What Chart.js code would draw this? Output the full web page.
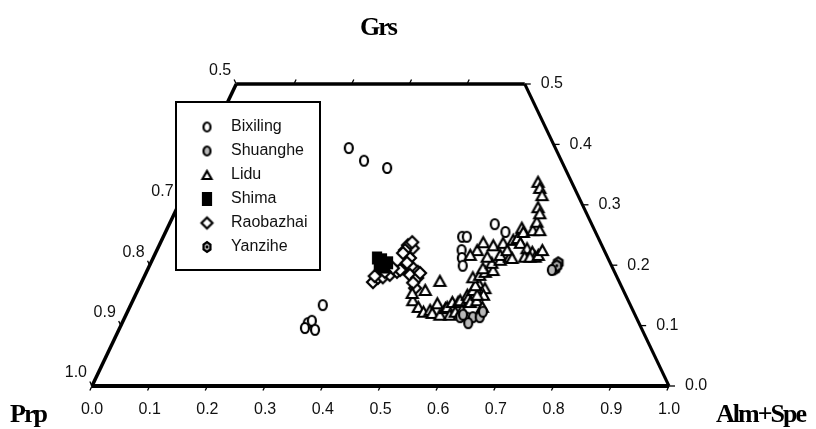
<!DOCTYPE html>
<html>
<head>
<meta charset="utf-8">
<script src="https://cdn.jsdelivr.net/npm/chart.js@4/dist/chart.umd.min.js"></script>
<style>
  html, body { margin: 0; padding: 0; background: #fff; }
  #chart { display: block; }
</style>
</head>
<body>
<canvas id="chart" width="816" height="429"></canvas>
<script>
// garnet end-member proportions: Alm+Spe and Grs (Prp = 1 - both)
var bixilingAlm = [0.248, 0.285, 0.331, 0.333, 0.322, 0.327, 0.340, 0.321, 0.518, 0.526, 0.528, 0.535, 0.543, 0.564, 0.589];
var bixilingGrs = [0.394, 0.373, 0.361, 0.134, 0.104, 0.108, 0.093, 0.096, 0.247, 0.247, 0.225, 0.212, 0.199, 0.268, 0.255];

var shuangheAlm = [0.581, 0.594, 0.603, 0.615, 0.616, 0.600, 0.584, 0.701];
var shuangheGrs = [0.114, 0.113, 0.114, 0.114, 0.123, 0.104, 0.118, 0.192];

var liduAlm = [0.485, 0.478, 0.500, 0.513, 0.523, 0.529, 0.530, 0.544, 0.516, 0.548, 0.550, 0.561, 0.555, 0.565, 0.567,
  0.575, 0.579, 0.586, 0.581, 0.596, 0.584, 0.611, 0.600, 0.603, 0.592, 0.581, 0.570, 0.580, 0.587, 0.580, 0.599,
  0.591, 0.603, 0.555, 0.578, 0.547, 0.559, 0.579, 0.594, 0.609, 0.599, 0.617, 0.607, 0.622, 0.615, 0.624, 0.614,
  0.620, 0.640, 0.652, 0.661, 0.643, 0.652, 0.635, 0.635, 0.647, 0.625, 0.633, 0.604, 0.612, 0.622, 0.665, 0.668,
  0.498, 0.568, 0.578];
var liduGrs = [0.142, 0.154, 0.131, 0.123, 0.126, 0.121, 0.137, 0.118, 0.174, 0.129, 0.131, 0.118, 0.139, 0.139, 0.142,
  0.151, 0.146, 0.139, 0.159, 0.142, 0.171, 0.131, 0.162, 0.151, 0.151, 0.167, 0.180, 0.184, 0.189, 0.195, 0.192,
  0.204, 0.209, 0.225, 0.214, 0.217, 0.238, 0.233, 0.237, 0.242, 0.217, 0.214, 0.225, 0.212, 0.245, 0.237, 0.262,
  0.255, 0.228, 0.222, 0.214, 0.214, 0.214, 0.258, 0.272, 0.258, 0.296, 0.286, 0.338, 0.328, 0.316, 0.217, 0.225,
  0.159, 0.123, 0.126];

var shimaAlm = [0.388, 0.398, 0.411, 0.397, 0.409];
var shimaGrs = [0.212, 0.209, 0.204, 0.200, 0.197];

var raobazhaiAlm = [0.401, 0.406, 0.414, 0.424, 0.434, 0.441, 0.448, 0.459, 0.470, 0.459, 0.474, 0.445, 0.442, 0.431,
  0.436, 0.430, 0.429, 0.479, 0.438, 0.475, 0.471, 0.444, 0.424, 0.413, 0.399];
var raobazhaiGrs = [0.172, 0.179, 0.180, 0.184, 0.189, 0.195, 0.200, 0.195, 0.189, 0.184, 0.179, 0.212, 0.228, 0.233,
  0.238, 0.225, 0.220, 0.162, 0.192, 0.187, 0.171, 0.204, 0.195, 0.189, 0.182];

var yanziheAlm = [0.706, 0.705, 0.706];
var yanziheGrs = [0.204, 0.194, 0.199];

var seriesNames = ["Bixiling", "Shuanghe", "Lidu", "Shima", "Raobazhai", "Yanzihe"];
var axisTicks = [0.0, 0.1, 0.2, 0.3, 0.4, 0.5, 0.6, 0.7, 0.8, 0.9, 1.0];
var grsTicks = [0.0, 0.1, 0.2, 0.3, 0.4, 0.5];
var prpTicks = [0.5, 0.6, 0.7, 0.8, 0.9, 1.0];

// ternary -> cartesian: x along the base, y = Grs
function toPoints(alm, grs) {
  return alm.map(function (a, i) {
    return { x: a + grs[i] / 2, y: grs[i] };
  });
}

// small canvases used as point styles
function marker(kind, w, h) {
  var c = document.createElement("canvas");
  c.width = w + 4;
  c.height = h + 4;
  var g = c.getContext("2d");
  var cx = c.width / 2, cy = c.height / 2;
  g.lineWidth = 2.2;
  g.strokeStyle = "#000";
  g.fillStyle = "#fff";
  g.beginPath();
  if (kind === "circle" || kind === "grey") {
    g.ellipse(cx, cy, w / 2 - 1, h / 2 - 1, 0, 0, Math.PI * 2);
    g.fillStyle = kind === "grey" ? "#b8b8b8" : "#fff";
  } else if (kind === "triangle") {
    g.moveTo(cx, cy - h / 2 + 1);
    g.lineTo(cx + w / 2 - 1, cy + h / 2 - 1);
    g.lineTo(cx - w / 2 + 1, cy + h / 2 - 1);
    g.closePath();
  } else if (kind === "square") {
    g.rect(cx - w / 2 + 1, cy - h / 2 + 1, w - 2, h - 2);
    g.fillStyle = "#000";
  } else if (kind === "diamond") {
    g.moveTo(cx, cy - h / 2 + 1);
    g.lineTo(cx + w / 2 - 1, cy);
    g.lineTo(cx, cy + h / 2 - 1);
    g.lineTo(cx - w / 2 + 1, cy);
    g.closePath();
  } else if (kind === "hexagon") {
    for (var k = 0; k < 6; k++) {
      var ang = Math.PI / 6 + k * Math.PI / 3;
      var px = cx + (w / 2 - 1) * Math.cos(ang), py = cy + (h / 2 - 1) * Math.sin(ang);
      if (k === 0) g.moveTo(px, py); else g.lineTo(px, py);
    }
    g.closePath();
    g.fillStyle = "#a8a8a8";
  }
  g.fill();
  g.stroke();
  if (kind === "hexagon") {
    g.beginPath();
    g.arc(cx, cy, 1.4, 0, Math.PI * 2);
    g.fillStyle = "#000";
    g.fill();
  }
  return c;
}

var markers = [
  marker("circle", 10, 12),
  marker("grey", 10, 12),
  marker("triangle", 13, 12),
  marker("square", 10, 13),
  marker("diamond", 14, 14),
  marker("hexagon", 12, 13)
];
var legendMarkers = [
  marker("circle", 9, 11),
  marker("grey", 9, 11),
  marker("triangle", 11, 10),
  marker("square", 10, 14),
  marker("diamond", 13, 13),
  marker("hexagon", 10, 12)
];

var seriesData = [
  toPoints(bixilingAlm, bixilingGrs),
  toPoints(shuangheAlm, shuangheGrs),
  toPoints(liduAlm, liduGrs),
  toPoints(shimaAlm, shimaGrs),
  toPoints(raobazhaiAlm, raobazhaiGrs),
  toPoints(yanziheAlm, yanziheGrs)
];

function fmt(v) { return v.toFixed(1); }

// triangle outline, ticks, tick labels and apex titles
var ternaryFrame = {
  id: "ternaryFrame",
  beforeDatasetsDraw: function (chart) {
    var ctx = chart.ctx;
    var xs = chart.scales.x, ys = chart.scales.y;
    function P(a, g) { return [xs.getPixelForValue(a + g / 2), ys.getPixelForValue(g)]; }
    var bl = P(0, 0), br = P(1, 0), tr = P(0.5, 0.5), tl = P(0, 0.5);

    ctx.save();
    ctx.strokeStyle = "#000";
    ctx.lineCap = "butt";
    ctx.lineJoin = "round";
    function seg(p, q, w) {
      ctx.beginPath();
      ctx.lineWidth = w;
      ctx.moveTo(p[0], p[1]);
      ctx.lineTo(q[0], q[1]);
      ctx.stroke();
    }
    seg(bl, br, 4);
    seg(bl, tl, 3.5);
    seg(tl, tr, 3.5);
    seg(tr, br, 3);

    // tick directions follow the iso-lines of each component
    var lx = tl[0] - bl[0], ly = tl[1] - bl[1], ln = Math.hypot(lx, ly);
    var ux = lx / ln, uy = ly / ln;
    var len = 5;
    ctx.fillStyle = "#111";
    ctx.font = "16px 'Liberation Sans', Arial, sans-serif";

    axisTicks.forEach(function (v) {
      var p = P(v, 0);
      seg(p, [p[0] - ux * len, p[1] - uy * len], 1.3);
      ctx.textAlign = "center";
      ctx.textBaseline = "middle";
      ctx.fillText(fmt(v), p[0], p[1] + 24);
    });
    grsTicks.forEach(function (v) {
      var p = P(1 - v, v);
      seg(p, [p[0] + 6, p[1]], 1.3);
      ctx.textAlign = "left";
      ctx.textBaseline = "middle";
      ctx.fillText(fmt(v), p[0] + 16, p[1]);
    });
    prpTicks.forEach(function (v) {
      var p = P(0, 1 - v);
      seg(p, [p[0] - ux * len, p[1] + uy * len], 1.3);
      ctx.textAlign = "right";
      ctx.textBaseline = "middle";
      ctx.fillText(fmt(v), p[0] - 5, p[1] - 13);
    });
    [0.1, 0.2, 0.3, 0.4].forEach(function (v) {
      var p = P(v, 0.5);
      seg(p, [p[0] + ux * len, p[1] + uy * len], 1.3);
    });

    ctx.fillStyle = "#000";
    ctx.font = "bold 26px 'Liberation Serif', 'Times New Roman', serif";
    ctx.letterSpacing = "-2px";
    ctx.textBaseline = "alphabetic";
    ctx.textAlign = "center";
    ctx.fillText("Grs", 378, 35);
    ctx.textAlign = "left";
    ctx.fillText("Prp", 10, 422);
    ctx.fillText("Alm+Spe", 716, 422);
    ctx.restore();
  },
  afterDraw: function (chart) {
    var ctx = chart.ctx;
    ctx.save();
    ctx.fillStyle = "#fff";
    ctx.strokeStyle = "#000";
    ctx.lineWidth = 2;
    ctx.fillRect(176, 102, 144, 168);
    ctx.strokeRect(176, 102, 144, 168);
    ctx.font = "16px 'Liberation Sans', Arial, sans-serif";
    ctx.fillStyle = "#111";
    ctx.textAlign = "left";
    ctx.textBaseline = "middle";
    seriesNames.forEach(function (name, i) {
      var y = 127 + i * 24;
      var m = legendMarkers[i];
      ctx.drawImage(m, 207 - m.width / 2, y - m.height / 2);
      ctx.fillText(name, 231, y);
    });
    ctx.restore();
  }
};

var ctx = document.getElementById("chart").getContext("2d");
var myChart = new Chart(ctx, {
  type: "scatter",
  data: {
    datasets: seriesNames.map(function (name, i) {
      return {
        label: name,
        data: seriesData[i],
        pointStyle: markers[i],
        pointRadius: 6,
        clip: false,
        order: [5, 0, 2, 3, 4, 1][i]
      };
    })
  },
  options: {
    responsive: false,
    animation: false,
    devicePixelRatio: 1,
    layout: { padding: { left: 92, right: 147, top: 84, bottom: 43 } },
    scales: {
      x: { type: "linear", min: 0, max: 1, display: false },
      y: { type: "linear", min: 0, max: 0.5, display: false }
    },
    plugins: {
      legend: { display: false },
      tooltip: { enabled: false }
    }
  },
  plugins: [ternaryFrame]
});
</script>
</body>
</html>
